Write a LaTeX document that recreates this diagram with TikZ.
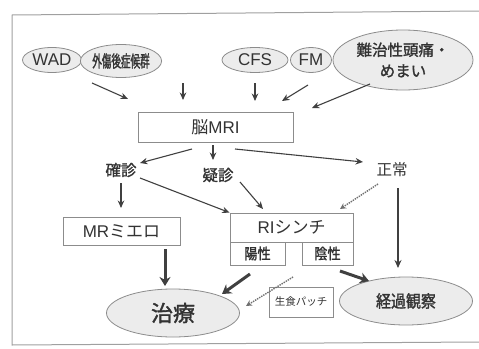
\documentclass[tikz,border=0pt]{standalone}
\usepackage{fontspec}
\usepackage{graphicx}
\setmainfont{Liberation Sans}
\newfontfamily\jp{Noto Sans CJK JP}
\newfontfamily\jpb[FakeBold=1.5]{Noto Sans CJK JP}
\newfontfamily\jpbn[FakeBold=1.5,FakeStretch=0.58]{Noto Sans CJK JP}
\newfontfamily\jpbm[FakeBold=1.5,FakeStretch=0.88]{Noto Sans CJK JP}
\usetikzlibrary{shapes.geometric,arrows.meta}
\definecolor{edgegray}{HTML}{8C8C8C}
\definecolor{ovalfill}{HTML}{ECECEC}
\definecolor{textgray}{HTML}{333333}
\definecolor{arrgray}{HTML}{404040}
\definecolor{dotgray}{HTML}{707070}
\definecolor{framegray}{HTML}{A0A0A0}
\tikzset{
  oval/.style={ellipse, draw=edgegray, fill=ovalfill, line width=0.8pt, inner sep=0pt, text=textgray},
  boxn/.style={rectangle, draw=edgegray, fill=white, line width=0.8pt, inner sep=0pt, text=textgray},
  lbl/.style={inner sep=0pt, text=textgray},
  arr/.style={draw=arrgray, line width=1.1pt, -{Stealth[length=7.5pt,width=6.5pt]}},
  midarr/.style={draw=arrgray, line width=1.6pt, -{Stealth[length=8pt,width=7pt]}},
  bigarr/.style={draw=arrgray, line width=3pt, -{Stealth[length=9pt,width=11pt]}},
  dotarr/.style={draw=dotgray, line width=1.4pt, densely dotted, -{Stealth[length=6pt,width=6pt]}},
  fs17/.style={font=\fontsize{17}{20}\selectfont},
  fs15/.style={font=\fontsize{15.5}{21}\selectfont},
}
\begin{document}
\begin{tikzpicture}[x=1pt,y=-1pt]
\useasboundingbox (0,0) rectangle (479,348);
% outer frame
\draw[framegray, line width=1pt] (479,342) -- (12,345) -- (12,15) -- (479,11);

% top ovals
\node[oval, fs17, minimum width=59pt, minimum height=25pt] (wad) at (52,60) {WAD};
\node[oval, font=\fontsize{16.5}{20}\selectfont, minimum width=72pt, minimum height=33pt] (gaisho) at (121,61) {\jpbn 外傷後症候群};
\node[oval, fs17, minimum width=66pt, minimum height=25pt] (cfs) at (255,60) {CFS};
\node[oval, fs17, minimum width=41pt, minimum height=25pt] (fm) at (311,60) {FM};
\node[oval, fs15, minimum width=140pt, minimum height=60pt, align=center] (nanchi) at (403,60) {\jpb 難治性頭痛・\\\jpb めまい};

% MRI
\node[boxn, fs17, minimum width=155pt, minimum height=30pt] (mri) at (215.5,127) {{\jp 脳}MRI};

% labels
\node[lbl, fs15] (kaku) at (121,170) {\jpb 確診};
\node[lbl, fs15] (gi) at (218,175) {\jpb 疑診};
\node[lbl, fs15] (sei) at (392,170) {\jp 正常};

% boxes
\node[boxn, fs17, minimum width=117pt, minimum height=28pt] (myelo) at (121.5,231) {MR{\jp ミエロ}};
\node[boxn, fs17, minimum width=123pt, minimum height=29pt] (ri) at (291.5,227.5) {RI{\jp シンチ}};
\node[boxn, font=\fontsize{15}{16}\selectfont, minimum width=55pt, minimum height=23pt] (yo) at (257.5,253.5) {\jpbm 陽性};
\node[boxn, font=\fontsize{15}{16}\selectfont, minimum width=51pt, minimum height=23pt] (in) at (327.5,253.5) {\jpbm 陰性};
\node[boxn, font=\fontsize{10.5}{12}\selectfont, minimum width=64pt, minimum height=30pt] (patch) at (301,302) {\jp 生食パッチ};

% bottom ovals
\node[oval, font=\fontsize{22}{24}\selectfont, minimum width=133pt, minimum height=48pt] (chiryo) at (173,313) {\jpb 治療};
\node[oval, font=\fontsize{17}{20}\selectfont, minimum width=133pt, minimum height=48pt] (keika) at (406,301) {\jpbm 経過観察};

% arrow end points
\coordinate (a1s) at (92,83);   \coordinate (a1e) at (128,99);
\coordinate (a2s) at (183,83);  \coordinate (a2e) at (183,100);
\coordinate (a3s) at (255,83);  \coordinate (a3e) at (255,101);
\coordinate (a4s) at (308,85);  \coordinate (a4e) at (282,101);
\coordinate (a5s) at (370,84);  \coordinate (a5e) at (312,108);
\coordinate (b1s) at (192,149); \coordinate (b1e) at (140,163);
\coordinate (b2s) at (213,145); \coordinate (b2e) at (213,160);
\coordinate (b3s) at (235,149); \coordinate (b3e) at (363,162);
\coordinate (c1s) at (121,183); \coordinate (c1e) at (121,208);
\coordinate (c2s) at (140,178);
\coordinate (c3s) at (240,182); \coordinate (c3e) at (263,209);
\coordinate (c4s) at (378,184); \coordinate (c4e) at (340,209);
\coordinate (c5s) at (398,188); \coordinate (c5e) at (398,268);
\coordinate (d1s) at (165,249); \coordinate (d1e) at (165,286);
\coordinate (d2s) at (250,274); \coordinate (d2e) at (222,294);
\coordinate (d3s) at (293,277); \coordinate (d3e) at (246,306);
\coordinate (d4s) at (340,271); \coordinate (d4e) at (369,281);

\draw[arr] (a1s) -- (a1e);
\draw[arr] (a2s) -- (a2e);
\draw[arr] (a3s) -- (a3e);
\draw[arr] (a4s) -- (a4e);
\draw[arr] (a5s) -- (a5e);
\draw[arr] (b1s) -- (b1e);
\draw[arr] (b2s) -- (b2e);
\draw[arr] (b3s) -- (b3e);
\draw[arr] (c1s) -- (c1e);
\draw[arr] (c2s) -- (ri.north west);
\draw[arr] (c3s) -- (c3e);
\draw[dotarr] (c4s) -- (c4e);
\draw[midarr] (c5s) -- (c5e);
\draw[bigarr] (d1s) -- (d1e);
\draw[bigarr] (d2s) -- (d2e);
\draw[dotarr] (d3s) -- (d3e);
\draw[bigarr] (d4s) -- (d4e);
\end{tikzpicture}
\end{document}
